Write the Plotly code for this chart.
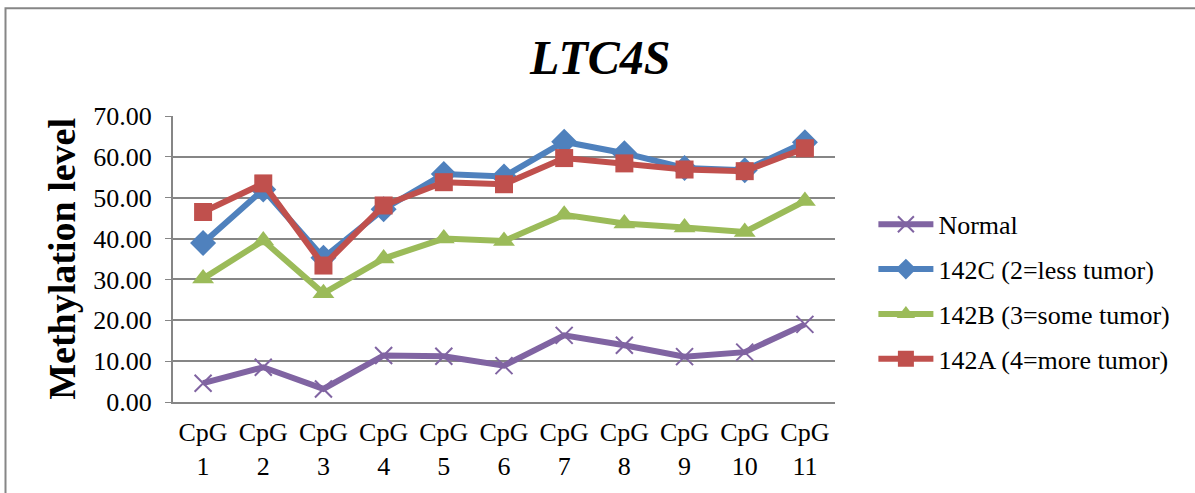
import plotly.graph_objects as go

# CpG site labels (two-line category ticks)
categories = [f"CpG<br>{i}" for i in range(1, 12)]

normal = [4.6, 8.5, 3.2, 11.4, 11.2, 8.9, 16.3, 13.9, 11.1, 12.2, 19.0]
s142c = [38.9, 52.0, 35.3, 47.2, 55.8, 55.2, 63.7, 60.9, 57.3, 56.7, 63.6]
s142b = [30.2, 39.5, 26.6, 35.1, 40.0, 39.4, 45.8, 43.7, 42.7, 41.6, 49.2]
s142a = [46.5, 53.5, 33.4, 48.1, 53.8, 53.3, 59.7, 58.4, 56.9, 56.5, 62.1]

series = [
    ("Normal", normal, "#8064A2", "x-thin", 17),
    ("142C (2=less tumor)", s142c, "#4F81BD", "diamond", 20),
    ("142B (3=some tumor)", s142b, "#9BBB59", "triangle-up", 19),
    ("142A (4=more tumor)", s142a, "#C0504D", "square", 18),
]

FONT = "Liberation Serif, Times New Roman, serif"

fig = go.Figure()
for name, vals, color, symbol, size in series:
    marker = dict(symbol=symbol, size=size, color=color)
    if symbol == "x-thin":
        marker["line"] = dict(color=color, width=2)
    fig.add_trace(go.Scatter(
        x=categories, y=vals, name=name, mode="lines+markers",
        line=dict(color=color, width=6), marker=marker, legendgroup=name,
    ))

fig.update_layout(
    width=1195, height=493,
    margin=dict(l=173, r=360, t=116, b=89),
    paper_bgcolor="white", plot_bgcolor="white",
    font=dict(family=FONT, size=26, color="black"),
    showlegend=True,
    legend=dict(x=1.058, xanchor="left", y=0.385, yanchor="middle",
                font=dict(family=FONT, size=26), tracegroupgap=8,
                itemwidth=55, bgcolor="rgba(0,0,0,0)"),
    xaxis=dict(type="category", range=[-0.5, 10.5], showgrid=False,
               showline=True, linecolor="#868686", linewidth=2,
               ticks="", tickfont=dict(size=26), ticklabelstandoff=6,
               fixedrange=True),
    yaxis=dict(range=[0, 70], dtick=10, tickformat=".2f",
               showgrid=True, gridcolor="#868686", gridwidth=1.5,
               showline=True, linecolor="#868686", linewidth=2,
               ticks="outside", ticklen=6, tickcolor="#868686",
               tickfont=dict(size=26), ticklabelstandoff=8, zeroline=False),
    annotations=[
        dict(text="<b>Methylation level</b>", textangle=-90,
             xref="paper", yref="paper", x=-0.168, y=0.5,
             xanchor="center", yanchor="middle", showarrow=False,
             font=dict(family=FONT, size=38, color="black")),
        dict(text="<b><i>LTC4S</i></b>", xref="paper", yref="paper",
             x=(599 - 173) / 662, y=(404 - 57) / 288,
             xanchor="center", yanchor="middle", showarrow=False,
             font=dict(family=FONT, size=48, color="black")),
    ],
    shapes=[
        dict(type="rect", xref="paper", yref="paper",
             x0=(5.5 - 173) / 662, y0=-1.0, x1=2.0, y1=(404 - 7.5) / 288,
             line=dict(color="#868686", width=2), fillcolor="rgba(0,0,0,0)",
             layer="below"),
    ],
)

fig.write_html("out.html")
